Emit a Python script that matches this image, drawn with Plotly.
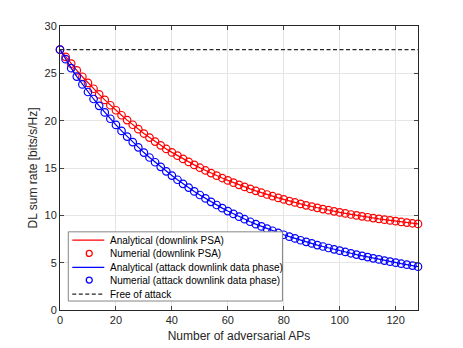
import plotly.graph_objects as go

num_aps = list(range(0, 129, 2))

rate_psa = [27.50, 26.74, 26.02, 25.31, 24.64, 23.99, 23.37, 22.77, 22.19, 21.63,
            21.10, 20.57, 20.06, 19.57, 19.10, 18.64, 18.21, 17.79, 17.39, 17.01,
            16.65, 16.30, 15.96, 15.64, 15.33, 15.03, 14.74, 14.46, 14.19, 13.94,
            13.69, 13.45, 13.22, 13.00, 12.79, 12.59, 12.39, 12.20, 12.02, 11.84,
            11.68, 11.51, 11.36, 11.21, 11.06, 10.93, 10.79, 10.66, 10.54, 10.42,
            10.31, 10.20, 10.09, 9.99, 9.89, 9.80, 9.71, 9.62, 9.54, 9.46,
            9.38, 9.30, 9.23, 9.16, 9.09]

rate_attack = [27.50, 26.50, 25.55, 24.66, 23.83, 23.03, 22.29, 21.57, 20.87, 20.20,
               19.55, 18.92, 18.32, 17.74, 17.18, 16.63, 16.11, 15.61, 15.12, 14.65,
               14.20, 13.76, 13.33, 12.93, 12.53, 12.15, 11.79, 11.43, 11.09, 10.76,
               10.45, 10.15, 9.86, 9.59, 9.32, 9.07, 8.83, 8.59, 8.37, 8.15,
               7.95, 7.75, 7.56, 7.37, 7.20, 7.03, 6.86, 6.71, 6.55, 6.41,
               6.27, 6.13, 5.99, 5.85, 5.72, 5.59, 5.46, 5.34, 5.22, 5.11,
               5.00, 4.89, 4.79, 4.69, 4.58]

free_x = [0, 128]
free_rate = [27.5, 27.5]

x_ticks = [0, 20, 40, 60, 80, 100, 120]
y_ticks = [0, 5, 10, 15, 20, 25, 30]

legend_labels = ["Analytical (downlink PSA)",
                 "Numerial (downlink PSA)",
                 "Analytical (attack downlink data phase)",
                 "Numerial (attack downlink data phase)",
                 "Free of attack"]

RED = "#ff0000"
BLUE = "#0000ff"
BLACK = "#262626"
axis_col = "#262626"
font_family = "Liberation Sans, Arial, sans-serif"
DASH = "4px,2.5px"

fig = go.Figure()
fig.add_trace(go.Scatter(x=num_aps, y=rate_psa, mode="lines",
                         line=dict(color=RED, width=1.2),
                         name=legend_labels[0], showlegend=False))
fig.add_trace(go.Scatter(x=num_aps, y=rate_psa, mode="markers", cliponaxis=False,
                         marker=dict(symbol="circle-open", size=7.5, color=RED,
                                     line=dict(width=1.2, color=RED)),
                         name=legend_labels[1], showlegend=False))
fig.add_trace(go.Scatter(x=num_aps, y=rate_attack, mode="lines",
                         line=dict(color=BLUE, width=1.2),
                         name=legend_labels[2], showlegend=False))
fig.add_trace(go.Scatter(x=num_aps, y=rate_attack, mode="markers", cliponaxis=False,
                         marker=dict(symbol="circle-open", size=7.5, color=BLUE,
                                     line=dict(width=1.2, color=BLUE)),
                         name=legend_labels[3], showlegend=False))
fig.add_trace(go.Scatter(x=free_x, y=free_rate, mode="lines",
                         line=dict(color=BLACK, width=1.3, dash=DASH),
                         name=legend_labels[4], showlegend=False))

# ---- compact legend box (MATLAB style), in paper coordinates ----
PW, PH = 358.4, 284.5   # plot area size in px
def px(dx):
    return dx / PW
def py(dy):
    return dy / PH

box_x0, box_x1 = px(8.3), px(222.7)
box_y0, box_y1 = py(9.0), py(78.3)
row_y = [py(70.0), py(56.7), py(42.7), py(30.0), py(16.0)]
line_x0, line_x1 = px(12.3), px(44.3)
mark_x = px(29.3)
text_x = px(48)

shapes = [dict(type="rect", xref="paper", yref="paper",
               x0=box_x0, x1=box_x1, y0=box_y0, y1=box_y1,
               line=dict(color="#858585", width=1), fillcolor="white", layer="above")]
sample_styles = [("line", RED, None), ("marker", RED, None), ("line", BLUE, None),
                 ("marker", BLUE, None), ("line", BLACK, DASH)]
annotations = []
for (kind, col, dash), yv, lab in zip(sample_styles, row_y, legend_labels):
    if kind == "line":
        shapes.append(dict(type="line", xref="paper", yref="paper",
                           x0=line_x0, x1=line_x1, y0=yv, y1=yv, layer="above",
                           line=dict(color=col, width=1.3, dash=dash or "solid")))
    else:
        shapes.append(dict(type="circle", xref="paper", yref="paper",
                           xsizemode="pixel", ysizemode="pixel",
                           xanchor=mark_x, yanchor=yv,
                           x0=-3, x1=3, y0=-3, y1=3, layer="above",
                           line=dict(color=col, width=1.3)))
    annotations.append(dict(xref="paper", yref="paper", x=text_x, y=yv,
                            xanchor="left", yanchor="middle", showarrow=False,
                            text=lab, font=dict(size=10, color="#000000")))

fig.update_layout(
    width=455, height=340,
    margin=dict(l=52, r=44.6, t=17.5, b=38, autoexpand=False),
    paper_bgcolor="white", plot_bgcolor="white",
    font=dict(family=font_family, size=11, color=axis_col),
    showlegend=False,
    shapes=shapes,
    annotations=annotations,
)
fig.update_xaxes(range=[0, 128], tickvals=x_ticks, ticks="inside", ticklen=4,
                 showline=True, linecolor=axis_col, linewidth=1, mirror="ticks",
                 showgrid=True, gridcolor="#e5e5e5", zeroline=False, automargin=False,
                 title=dict(text="Number of adversarial APs", standoff=6,
                            font=dict(size=12)))
fig.update_yaxes(range=[0, 30], tickvals=y_ticks, ticks="inside", ticklen=4,
                 showline=True, linecolor=axis_col, linewidth=1, mirror="ticks",
                 showgrid=True, gridcolor="#e5e5e5", zeroline=False, automargin=False,
                 title=dict(text="DL sum rate [bits/s/Hz]", standoff=4,
                            font=dict(size=12)))

fig.write_html("out.html")
